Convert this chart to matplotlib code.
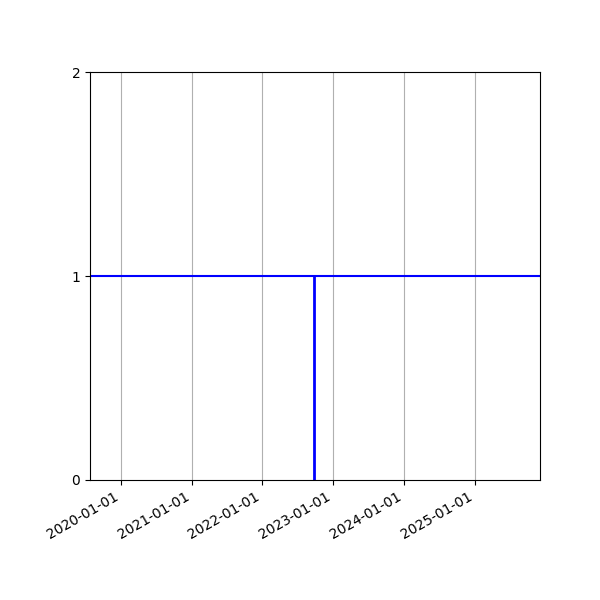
import matplotlib
matplotlib.use("Agg")
import matplotlib.pyplot as plt
import matplotlib.dates as mdates
import numpy as np
import datetime as dt

# Data
x_range = [dt.datetime(2019, 7, 27), dt.datetime(2025, 12, 5)]
level = 1
event_dates = [dt.datetime(2022, 9, 26)]
event_bottom = [0]
event_top = [1]
y_ticks = [0, 1, 2]
x_ticks = [dt.datetime(y, 1, 1) for y in [2020, 2021, 2022, 2023, 2024, 2025]]

fig = plt.figure(figsize=(6, 6), dpi=100)
ax = fig.add_subplot(111)
fig.subplots_adjust(left=0.15, right=0.9, top=0.88, bottom=0.2)

ax.plot(x_range, [level, level], color="blue", linewidth=1.5)
ax.vlines(event_dates, event_bottom, event_top, color="blue", linewidth=2)

ax.set_xlim(x_range)
ax.set_ylim(0, 2)
ax.set_yticks(y_ticks)
ax.set_xticks(x_ticks)
ax.xaxis.set_major_formatter(mdates.DateFormatter("%Y-%m-%d"))
ax.grid(True, axis="x")
for lbl in ax.get_xticklabels():
    lbl.set_rotation(30)
    lbl.set_ha("right")

fig.savefig("out.png", dpi=100)
